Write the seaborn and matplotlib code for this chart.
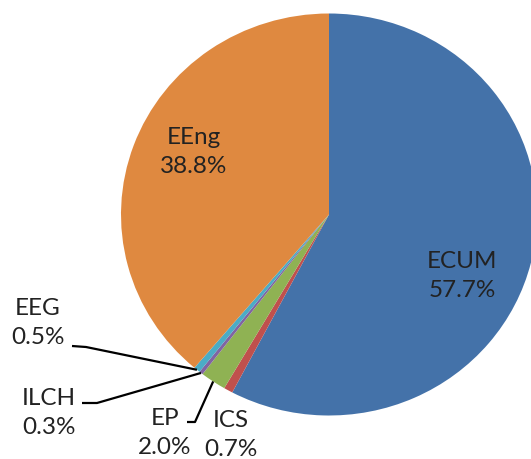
import matplotlib
matplotlib.use("Agg")
import matplotlib.pyplot as plt
import seaborn as sns
import numpy as np

# Share of each category (percent), drawn clockwise from 12 o'clock
categories = ["ECUM", "ICS", "EP", "ILCH", "EEG", "EEng"]
shares = [57.7, 0.7, 2.0, 0.3, 0.5, 38.8]
colors = ["#4472a9", "#c0504d", "#8fb253", "#8064a2", "#4bacc6", "#df8940"]

sns.set_theme(style="white")
plt.rcParams["font.family"] = ["Lato", "DejaVu Sans"]

W, H = 531, 460
fig = plt.figure(figsize=(W / 100, H / 100), dpi=100, facecolor="white")

# pie ellipse geometry in pixels
CX, CY, RX, RY = 329.0, 215.5, 208.0, 201.0
ax = fig.add_axes([(CX - RX) / W, (H - (CY + RY)) / H, 2 * RX / W, 2 * RY / H])

wedges, _ = ax.pie(shares, colors=colors, startangle=90, counterclock=False,
                   wedgeprops=dict(linewidth=0))
ax.set_aspect("auto")
ax.set_xlim(-1, 1)
ax.set_ylim(-1, 1)
ax.axis("off")


def px(x, y):
    """Pixel position in the figure -> data coordinates of the pie axes."""
    return (x - CX) / RX, (CY - y) / RY


def edge_point(i):
    """Point on the rim at the middle of wedge i."""
    w = wedges[i]
    mid = np.deg2rad((w.theta1 + w.theta2) / 2)
    return np.cos(mid), np.sin(mid)


text_kw = dict(ha="center", va="center", fontsize=17.5, color="#222222",
               linespacing=1.5, clip_on=False)

label_pos = {
    "ECUM": (462, 276),
    "EEng": (194, 152),
    "EEG": (38, 323),
    "ILCH": (49, 413),
    "EP": (165, 433),
    "ICS": (231, 435),
}

for name, val in zip(categories, shares):
    x, y = px(*label_pos[name])
    ax.text(x, y, f"{name}\n{val:.1f}%", **text_kw)

# leader lines for the thin slices
leaders = {
    "EEG": [(72, 347), (86, 348)],
    "ILCH": [(82, 404), (97, 404)],
    "EP": [(187, 423), (195, 423)],
}
for name, pts in leaders.items():
    i = categories.index(name)
    xs = [px(*p)[0] for p in pts]
    ys = [px(*p)[1] for p in pts]
    ex, ey = edge_point(i)
    xs.append(ex)
    ys.append(ey)
    ax.plot(xs, ys, color="black", lw=1.6, solid_capstyle="butt", clip_on=False)

fig.savefig("out.png", dpi=100, facecolor="white")
